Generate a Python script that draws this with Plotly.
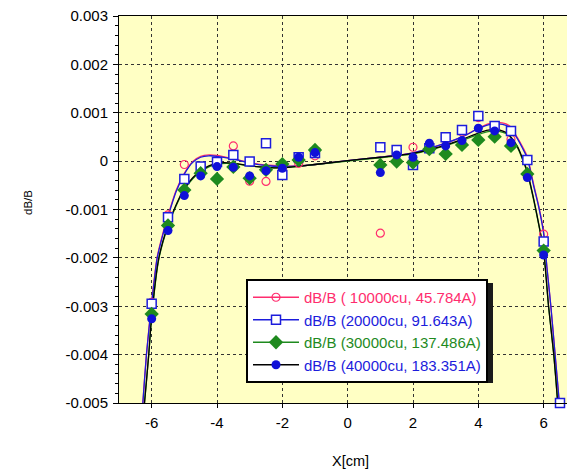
import plotly.graph_objects as go

# ---------------- data ----------------
X_PTS = [-6, -5.5, -5, -4.5, -4, -3.5, -3, -2.5, -2, -1.5, -1,
         1, 1.5, 2, 2.5, 3, 3.5, 4, 4.5, 5, 5.5, 6, 6.5]

y_10000 = [-0.00292, -0.00111, -0.00007, -0.00011, -0.00002, 0.000314, -0.000415, -0.00042, -0.00015, -0.000045, 0.00011,
           -0.00149, 0.00013, 0.000287, 0.00035, 0.00045, 0.0006, 0.0009, 0.0007, 0.000452, 0.00003, -0.00151, None]
y_20000 = [-0.00295, -0.00116, -0.000368, -0.000113, -0.00002, 0.000128, -0.00001, 0.00037, -0.000285, 0.00008, 0.00017,
           0.000287, 0.00023, -0.00008, 0.000267, 0.000494, 0.000645, 0.000934, 0.000727, 0.000624, 0.000025, -0.00166, -0.005]
y_30000 = [-0.00316, -0.00133, -0.000595, -0.00025, -0.000368, -0.00012, -0.000353, -0.00018, -0.00006, 0.000025, 0.00023,
           -0.000079, -0.00001, -0.00003, 0.000246, 0.000149, 0.000335, 0.000438, 0.000506, 0.000314, -0.000264, -0.00185, None]
y_40000 = [-0.00326, -0.001436, -0.000713, -0.000306, -0.000113, -0.000126, -0.000306, -0.0002, -0.000147, 0.00008, 0.000176,
           -0.000237, 0.000128, 0.00008, 0.00037, 0.000314, 0.000424, 0.00068, 0.000624, 0.000382, -0.00034, -0.00194, None]

# fitted curves
fit_hi_x = [-6.31, -6.27, -6.16, -6.0, -5.83, -5.66, -5.5, -5.25, -5.0, -4.75, -4.5, -4.25, -4.0, -3.5, -3.0,
            -2.5, -2.0, -1.5, -1.0, 0, 1, 2, 3, 3.5, 4, 4.3, 4.6, 4.85, 5.0, 5.2, 5.35, 5.5, 5.7, 5.85,
            6.0, 6.1, 6.22, 6.35, 6.48, 6.52]
fit_10000_y = [-0.0054, -0.005, -0.004, -0.0029, -0.00198, -0.0015, -0.00112, -0.0006, -0.00025, -0.00001, 0.0001,
               0.00013, 0.00012, 0.00005, -0.00003, -0.00008, -0.0001, -0.0001, -0.00007, 0.00001, 0.00008,
               0.00017, 0.00037, 0.0005, 0.00068, 0.00077, 0.0008, 0.00077, 0.0007, 0.00048, 0.0003, 0.00009,
               -0.0005, -0.00093, -0.00146, -0.0022, -0.003, -0.004, -0.005, -0.0054]
fit_20000_y = [-0.0054, -0.005, -0.004, -0.00294, -0.002, -0.00153, -0.00115, -0.00063, -0.00027, -0.00003, 0.00008,
               0.00011, 0.0001, 0.00004, -0.00004, -0.00009, -0.00011, -0.0001, -0.00007, 0.00001, 0.00008,
               0.00017, 0.00037, 0.0005, 0.00067, 0.00075, 0.00077, 0.00074, 0.00067, 0.00046, 0.00027, 0.00006,
               -0.00053, -0.00095, -0.0015, -0.0022, -0.003, -0.004, -0.005, -0.0054]
fit_lo_x = [-6.3, -6.22, -6.09, -6.0, -5.78, -5.5, -5.25, -5.0, -4.75, -4.5, -4.25, -4.0, -3.5, -3.0, -2.5,
            -2.0, -1.5, -1.0, 0, 1, 2, 3, 3.5, 4, 4.3, 4.6, 4.9, 5.2, 5.35, 5.5, 5.7, 5.85, 6.0, 6.15,
            6.31, 6.43, 6.48]
fit_30000_y = [-0.0055, -0.005, -0.004, -0.00322, -0.00202, -0.00134, -0.00092, -0.00059, -0.00037, -0.00022, -0.00012,
               -0.00006, -0.00005, -0.0001, -0.00013, -0.00014, -0.00011, -0.00007, 0.0, 0.00007, 0.00015,
               0.00032, 0.00043, 0.00055, 0.00061, 0.00062, 0.00055, 0.00028, 0.00004, -0.00024, -0.00082,
               -0.00132, -0.00187, -0.003, -0.004, -0.005, -0.0055]
fit_40000_y = [-0.0055, -0.005, -0.004, -0.0032, -0.002, -0.00132, -0.0009, -0.00057, -0.00035, -0.0002, -0.0001,
               -0.00004, -0.00004, -0.0001, -0.00013, -0.00014, -0.00011, -0.00007, 0.00001, 0.00008, 0.00016,
               0.00033, 0.00045, 0.00058, 0.00064, 0.00065, 0.00057, 0.0003, 0.00006, -0.00022, -0.0008,
               -0.0013, -0.00185, -0.003, -0.004, -0.005, -0.0055]

NAMES = ["dB/B ( 10000cu, 45.784A)", "dB/B (20000cu, 91.643A)",
         "dB/B (30000cu, 137.486A)", "dB/B (40000cu, 183.351A)"]

Y_TICKS = [0.003, 0.002, 0.001, 0, -0.001, -0.002, -0.003, -0.004, -0.005]
Y_TICK_TEXT = ["0.003", "0.002", "0.001", "0", "-0.001", "-0.002", "-0.003", "-0.004", "-0.005"]
X_TICKS = [-6, -4, -2, 0, 2, 4, 6]
X_TICK_TEXT = ["-6", "-4", "-2", "0", "2", "4", "6"]

# ---------------- style ----------------
RED = "#FF2D6E"
BLUE = "#1C1CDC"
GREEN = "#1E8A1E"
BLACK = "#000000"
DOT_BLUE = "#1010D8"
FONT = "Arial, Liberation Sans, sans-serif"

fig = go.Figure()

lw = 1.3
fig.add_trace(go.Scatter(x=fit_hi_x, y=fit_10000_y, mode="lines", line=dict(color=RED, width=lw, shape="spline", smoothing=0.6), showlegend=False, hoverinfo="skip"))
fig.add_trace(go.Scatter(x=fit_hi_x, y=fit_20000_y, mode="lines", line=dict(color=BLUE, width=lw, shape="spline", smoothing=0.6), showlegend=False, hoverinfo="skip"))
fig.add_trace(go.Scatter(x=fit_lo_x, y=fit_30000_y, mode="lines", line=dict(color=GREEN, width=lw, shape="spline", smoothing=0.6), showlegend=False, hoverinfo="skip"))
fig.add_trace(go.Scatter(x=fit_lo_x, y=fit_40000_y, mode="lines", line=dict(color=BLACK, width=lw, shape="spline", smoothing=0.6), showlegend=False, hoverinfo="skip"))

MK_RED = dict(symbol="circle-open", size=8, color=RED, line=dict(width=1.2, color=RED))
MK_SQ = dict(symbol="square", size=9, color="white", line=dict(width=1.5, color=BLUE))
MK_DIA = dict(symbol="diamond", size=11, color=GREEN, line=dict(width=0))
MK_DOT = dict(symbol="circle", size=9, color=DOT_BLUE, line=dict(width=0))

fig.add_trace(go.Scatter(x=X_PTS, y=y_10000, mode="markers", showlegend=False, marker=MK_RED))
fig.add_trace(go.Scatter(x=X_PTS, y=y_20000, mode="markers", showlegend=False, cliponaxis=False, marker=MK_SQ))
fig.add_trace(go.Scatter(x=X_PTS, y=y_30000, mode="markers", showlegend=False, marker=MK_DIA))
fig.add_trace(go.Scatter(x=X_PTS, y=y_40000, mode="markers", showlegend=False, marker=MK_DOT))

leg = [(NAMES[0], RED, RED, MK_RED), (NAMES[1], BLUE, BLUE, MK_SQ),
       (NAMES[2], GREEN, GREEN, MK_DIA), (NAMES[3], BLACK, BLUE, MK_DOT)]
for name, lc, tc, mk in leg:
    fig.add_trace(go.Scatter(x=[None], y=[None], mode="lines+markers",
                             name=f"<span style='color:{tc}'>{name}</span>",
                             line=dict(color=lc, width=lw), marker=mk))

# page offset (body margin) -> work in screen pixels
OFF = 8
W, H = 568, 462
L = 119 - OFF
T = 16 - OFF
BOT = 403 - OFF
B = H - BOT
pw = W - L
ph = BOT - T


def px(sx):
    return (sx - OFF - L) / pw


def py(sy):
    return (BOT - (sy - OFF)) / ph


# legend box (screen pixels, estimated)
LEG_FS = 15
item_h = LEG_FS * 1.3 + 3
lx0 = 246
ly0 = 279
leg_h = 4 * item_h + 2 * 2 + 6
leg_w = 243
lx1, ly1 = lx0 + leg_w, ly0 + leg_h

fig.add_shape(type="rect", xref="paper", yref="paper",
              x0=px(lx0 + 4), x1=px(lx1 + 4), y0=py(ly1 + 4), y1=py(ly0 + 4),
              fillcolor="#1a1a1a", line=dict(width=0), layer="above")

fig.update_layout(
    width=W, height=H,
    margin=dict(l=L, r=0, t=T, b=B),
    paper_bgcolor="white",
    plot_bgcolor="#FFFFC4",
    font=dict(family=FONT, size=13, color="black"),
    legend=dict(x=px(lx0), y=py(ly0), xanchor="left", yanchor="top",
                bgcolor="white", bordercolor="black", borderwidth=2,
                font=dict(family=FONT, size=LEG_FS), tracegroupgap=0, itemwidth=46),
    xaxis=dict(range=[-7, 6.99], tickvals=X_TICKS, ticktext=X_TICK_TEXT,
               showline=True, linecolor="black", linewidth=1, mirror=True,
               ticks="outside", ticklen=4, tickcolor="black", ticklabelstandoff=2,
               showgrid=True, gridcolor="#333333", griddash="dot", gridwidth=1,
               zeroline=False, tickfont=dict(size=15), ticklabeloverflow="allow"),
    yaxis=dict(range=[-0.005, 0.003], tickvals=Y_TICKS, ticktext=Y_TICK_TEXT,
               showline=True, linecolor="black", linewidth=1,
               ticks="outside", ticklen=5, tickcolor="black", ticklabelstandoff=2,
               minor=dict(dtick=0.0002, ticks="outside", ticklen=3, tickcolor="black", showgrid=False),
               showgrid=True, gridcolor="#333333", griddash="dot", gridwidth=1,
               zeroline=False, tickfont=dict(size=15), ticklabeloverflow="allow"),
    annotations=[
        dict(text="X[cm]", xref="paper", yref="paper", x=px(350), y=py(461),
             showarrow=False, font=dict(size=14.5), xanchor="center", yanchor="middle"),
        dict(text="dB/B", xref="paper", yref="paper", x=px(28), y=py(203),
             showarrow=False, font=dict(size=11.5), textangle=-90, xanchor="center", yanchor="middle"),
    ],
)

fig.write_html("out.html")
